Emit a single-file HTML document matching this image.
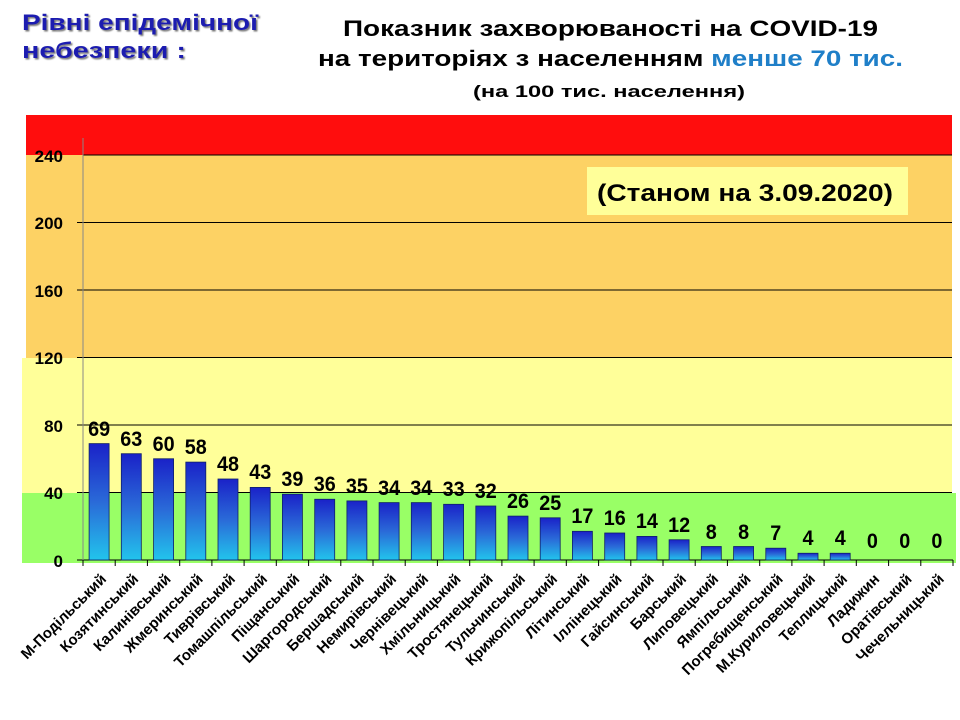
<!DOCTYPE html>
<html><head><meta charset="utf-8"><style>
body{margin:0;background:#fff;}
svg{display:block;font-family:"Liberation Sans",sans-serif;}
.v{font-size:21px;font-weight:bold;text-anchor:middle;}
.c{font-size:15px;font-weight:bold;text-anchor:end;}
</style></head><body>
<svg width="960" height="720" viewBox="0 0 960 720">
<defs>
<linearGradient id="bg" x1="0" y1="0" x2="0" y2="1">
<stop offset="0" stop-color="#1a22c8"/><stop offset="0.5" stop-color="#2a6ad8"/><stop offset="1" stop-color="#22c4ec"/>
</linearGradient>
<filter id="sh"><feDropShadow dx="1.5" dy="1.5" stdDeviation="0.8" flood-color="#777"/></filter>
</defs>
<text x="22" y="30" font-size="22" font-weight="bold" fill="#1c1cb0" textLength="236" lengthAdjust="spacingAndGlyphs" filter="url(#sh)">Рівні епідемічної</text>
<text x="22" y="58" font-size="22" font-weight="bold" fill="#1c1cb0" textLength="164" lengthAdjust="spacingAndGlyphs" filter="url(#sh)">небезпеки :</text>
<text x="343" y="36" font-size="22" font-weight="bold" fill="#000" textLength="535" lengthAdjust="spacingAndGlyphs">Показник захворюваності на COVID-19</text>
<text x="318" y="66" font-size="22" font-weight="bold" fill="#000" textLength="585" lengthAdjust="spacingAndGlyphs">на територіях з населенням <tspan fill="#1f7fc8">менше 70 тис.</tspan></text>
<text x="473" y="97" font-size="17" font-weight="bold" fill="#000" textLength="272" lengthAdjust="spacingAndGlyphs">(на 100  тис. населення)</text>
<rect x="26" y="115" width="926" height="40" fill="#ff0d0d"/>
<rect x="26" y="155" width="926" height="203" fill="#fdd264"/>
<rect x="22" y="358" width="930" height="135" fill="#ffff99"/>
<rect x="22" y="493" width="934" height="70" fill="#99ff66"/>
<rect x="587" y="167" width="321" height="48" fill="#ffff99"/>
<text x="597" y="201" font-size="24" font-weight="bold" fill="#000" textLength="296" lengthAdjust="spacingAndGlyphs">(Станом на 3.09.2020)</text>
<g stroke="#000" stroke-width="1">
<line x1="83" y1="155" x2="952" y2="155"/><line x1="77" y1="222.5" x2="952" y2="222.5"/>
<line x1="77" y1="290" x2="952" y2="290"/><line x1="77" y1="357.5" x2="952" y2="357.5"/>
<line x1="77" y1="425" x2="952" y2="425"/><line x1="77" y1="492.5" x2="952" y2="492.5"/>
<line x1="77" y1="560" x2="953" y2="560"/>
</g>
<line x1="83" y1="138" x2="83" y2="560" stroke="#888" stroke-width="1"/>
<g font-size="17" font-weight="bold" fill="#000" text-anchor="end">
<text x="63" y="162">240</text><text x="63" y="229">200</text><text x="63" y="297">160</text>
<text x="63" y="364">120</text><text x="63" y="432">80</text><text x="63" y="499">40</text><text x="63" y="567">0</text>
</g>
<g stroke="#000" stroke-width="1">
<line x1="83" y1="560" x2="83" y2="566"/><line x1="115.2" y1="560" x2="115.2" y2="566"/><line x1="147.4" y1="560" x2="147.4" y2="566"/><line x1="179.7" y1="560" x2="179.7" y2="566"/><line x1="211.9" y1="560" x2="211.9" y2="566"/><line x1="244.1" y1="560" x2="244.1" y2="566"/><line x1="276.3" y1="560" x2="276.3" y2="566"/><line x1="308.6" y1="560" x2="308.6" y2="566"/><line x1="340.8" y1="560" x2="340.8" y2="566"/><line x1="373" y1="560" x2="373" y2="566"/><line x1="405.2" y1="560" x2="405.2" y2="566"/><line x1="437.4" y1="560" x2="437.4" y2="566"/><line x1="469.7" y1="560" x2="469.7" y2="566"/><line x1="501.9" y1="560" x2="501.9" y2="566"/><line x1="534.1" y1="560" x2="534.1" y2="566"/><line x1="566.3" y1="560" x2="566.3" y2="566"/><line x1="598.6" y1="560" x2="598.6" y2="566"/><line x1="630.8" y1="560" x2="630.8" y2="566"/><line x1="663" y1="560" x2="663" y2="566"/><line x1="695.2" y1="560" x2="695.2" y2="566"/><line x1="727.4" y1="560" x2="727.4" y2="566"/><line x1="759.7" y1="560" x2="759.7" y2="566"/><line x1="791.9" y1="560" x2="791.9" y2="566"/><line x1="824.1" y1="560" x2="824.1" y2="566"/><line x1="856.3" y1="560" x2="856.3" y2="566"/><line x1="888.6" y1="560" x2="888.6" y2="566"/><line x1="920.8" y1="560" x2="920.8" y2="566"/><line x1="953" y1="560" x2="953" y2="566"/>
</g>
<g fill="url(#bg)" stroke="#10206a" stroke-width="0.8">
<rect x="89.1" y="443.6" width="20" height="116.4"/>
<rect x="121.3" y="453.7" width="20" height="106.3"/>
<rect x="153.6" y="458.75" width="20" height="101.25"/>
<rect x="185.8" y="462.1" width="20" height="97.9"/>
<rect x="218" y="479" width="20" height="81"/>
<rect x="250.2" y="487.4" width="20" height="72.6"/>
<rect x="282.4" y="494.2" width="20" height="65.8"/>
<rect x="314.7" y="499.25" width="20" height="60.75"/>
<rect x="346.9" y="500.9" width="20" height="59.1"/>
<rect x="379.1" y="502.6" width="20" height="57.4"/>
<rect x="411.3" y="502.6" width="20" height="57.4"/>
<rect x="443.6" y="504.3" width="20" height="55.7"/>
<rect x="475.8" y="506" width="20" height="54"/>
<rect x="508" y="516.1" width="20" height="43.9"/>
<rect x="540.2" y="517.8" width="20" height="42.2"/>
<rect x="572.4" y="531.3" width="20" height="28.7"/>
<rect x="604.7" y="533" width="20" height="27"/>
<rect x="636.9" y="536.4" width="20" height="23.6"/>
<rect x="669.1" y="539.75" width="20" height="20.25"/>
<rect x="701.3" y="546.5" width="20" height="13.5"/>
<rect x="733.6" y="546.5" width="20" height="13.5"/>
<rect x="765.8" y="548.2" width="20" height="11.8"/>
<rect x="798" y="553.25" width="20" height="6.75"/>
<rect x="830.2" y="553.25" width="20" height="6.75"/>
</g>
<g fill="#000">
<text class="v" x="99.1" y="436" textLength="22" lengthAdjust="spacingAndGlyphs">69</text>
<text class="v" x="131.3" y="446" textLength="22" lengthAdjust="spacingAndGlyphs">63</text>
<text class="v" x="163.6" y="451" textLength="22" lengthAdjust="spacingAndGlyphs">60</text>
<text class="v" x="195.8" y="454" textLength="22" lengthAdjust="spacingAndGlyphs">58</text>
<text class="v" x="228" y="471" textLength="22" lengthAdjust="spacingAndGlyphs">48</text>
<text class="v" x="260.2" y="479" textLength="22" lengthAdjust="spacingAndGlyphs">43</text>
<text class="v" x="292.4" y="486" textLength="22" lengthAdjust="spacingAndGlyphs">39</text>
<text class="v" x="324.7" y="491" textLength="22" lengthAdjust="spacingAndGlyphs">36</text>
<text class="v" x="356.9" y="493" textLength="22" lengthAdjust="spacingAndGlyphs">35</text>
<text class="v" x="389.1" y="495" textLength="22" lengthAdjust="spacingAndGlyphs">34</text>
<text class="v" x="421.3" y="495" textLength="22" lengthAdjust="spacingAndGlyphs">34</text>
<text class="v" x="453.6" y="496" textLength="22" lengthAdjust="spacingAndGlyphs">33</text>
<text class="v" x="485.8" y="498" textLength="22" lengthAdjust="spacingAndGlyphs">32</text>
<text class="v" x="518" y="508" textLength="22" lengthAdjust="spacingAndGlyphs">26</text>
<text class="v" x="550.2" y="510" textLength="22" lengthAdjust="spacingAndGlyphs">25</text>
<text class="v" x="582.4" y="523" textLength="22" lengthAdjust="spacingAndGlyphs">17</text>
<text class="v" x="614.7" y="525" textLength="22" lengthAdjust="spacingAndGlyphs">16</text>
<text class="v" x="646.9" y="528" textLength="22" lengthAdjust="spacingAndGlyphs">14</text>
<text class="v" x="679.1" y="532" textLength="22" lengthAdjust="spacingAndGlyphs">12</text>
<text class="v" x="711.3" y="539" textLength="11" lengthAdjust="spacingAndGlyphs">8</text>
<text class="v" x="743.6" y="539" textLength="11" lengthAdjust="spacingAndGlyphs">8</text>
<text class="v" x="775.8" y="540" textLength="11" lengthAdjust="spacingAndGlyphs">7</text>
<text class="v" x="808" y="545" textLength="11" lengthAdjust="spacingAndGlyphs">4</text>
<text class="v" x="840.2" y="545" textLength="11" lengthAdjust="spacingAndGlyphs">4</text>
<text class="v" x="872.4" y="548" textLength="11" lengthAdjust="spacingAndGlyphs">0</text>
<text class="v" x="904.7" y="548" textLength="11" lengthAdjust="spacingAndGlyphs">0</text>
<text class="v" x="936.9" y="548" textLength="11" lengthAdjust="spacingAndGlyphs">0</text>
</g>
<g fill="#000">
<text class="c" x="107.1" y="580" transform="rotate(-45 107.1 580)">М-Подільський</text>
<text class="c" x="139.3" y="580" transform="rotate(-45 139.3 580)">Козятинський</text>
<text class="c" x="171.6" y="580" transform="rotate(-45 171.6 580)">Калинівський</text>
<text class="c" x="203.8" y="580" transform="rotate(-45 203.8 580)">Жмеринський</text>
<text class="c" x="236" y="580" transform="rotate(-45 236 580)">Тиврівський</text>
<text class="c" x="268.2" y="580" transform="rotate(-45 268.2 580)">Томашпільський</text>
<text class="c" x="300.4" y="580" transform="rotate(-45 300.4 580)">Піщанський</text>
<text class="c" x="332.7" y="580" transform="rotate(-45 332.7 580)">Шаргородський</text>
<text class="c" x="364.9" y="580" transform="rotate(-45 364.9 580)">Бершадський</text>
<text class="c" x="397.1" y="580" transform="rotate(-45 397.1 580)">Немирівський</text>
<text class="c" x="429.3" y="580" transform="rotate(-45 429.3 580)">Чернівецький</text>
<text class="c" x="461.6" y="580" transform="rotate(-45 461.6 580)">Хмільницький</text>
<text class="c" x="493.8" y="580" transform="rotate(-45 493.8 580)">Тростянецький</text>
<text class="c" x="526" y="580" transform="rotate(-45 526 580)">Тульчинський</text>
<text class="c" x="558.2" y="580" transform="rotate(-45 558.2 580)">Крижопільський</text>
<text class="c" x="590.4" y="580" transform="rotate(-45 590.4 580)">Літинський</text>
<text class="c" x="622.7" y="580" transform="rotate(-45 622.7 580)">Іллінецький</text>
<text class="c" x="654.9" y="580" transform="rotate(-45 654.9 580)">Гайсинський</text>
<text class="c" x="687.1" y="580" transform="rotate(-45 687.1 580)">Барський</text>
<text class="c" x="719.3" y="580" transform="rotate(-45 719.3 580)">Липовецький</text>
<text class="c" x="751.6" y="580" transform="rotate(-45 751.6 580)">Ямпільський</text>
<text class="c" x="783.8" y="580" transform="rotate(-45 783.8 580)">Погребищенський</text>
<text class="c" x="816" y="580" transform="rotate(-45 816 580)">М.Куриловецький</text>
<text class="c" x="848.2" y="580" transform="rotate(-45 848.2 580)">Теплицький</text>
<text class="c" x="880.4" y="580" transform="rotate(-45 880.4 580)">Ладижин</text>
<text class="c" x="912.7" y="580" transform="rotate(-45 912.7 580)">Оратівський</text>
<text class="c" x="944.9" y="580" transform="rotate(-45 944.9 580)">Чечельницький</text>
</g>
</svg>
</body></html>
